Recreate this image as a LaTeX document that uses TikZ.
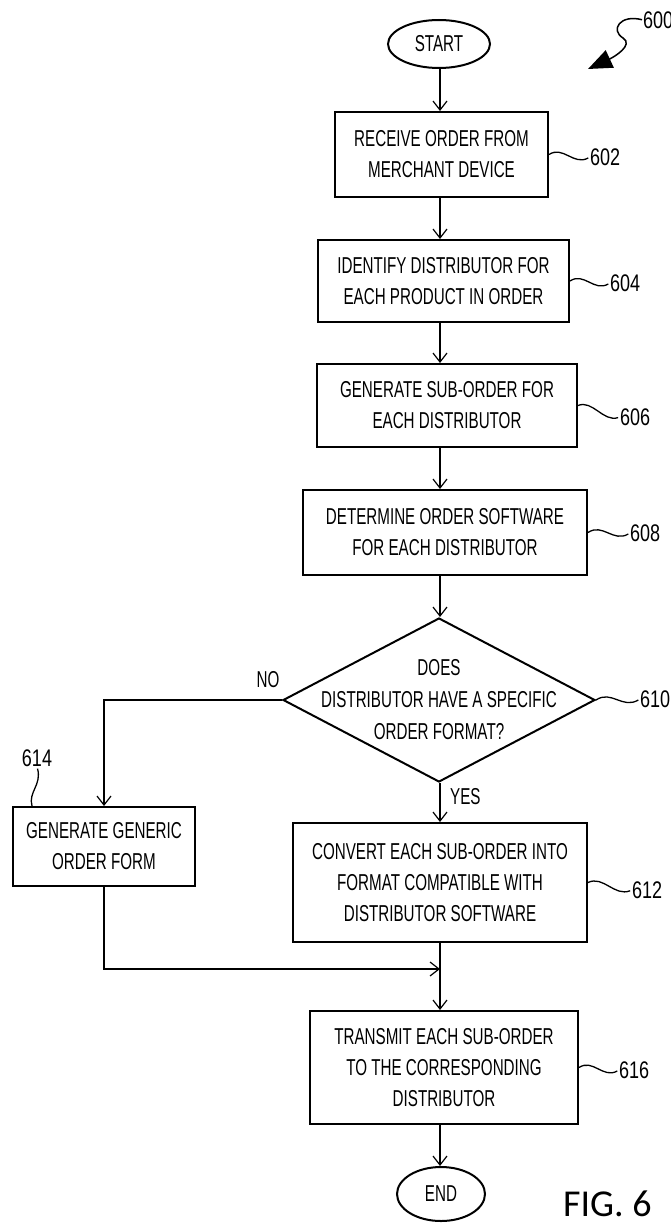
\documentclass[tikz,border=0pt]{standalone}
\usepackage{fontspec}
\setmainfont[FakeStretch=0.66]{Liberation Sans}
\newfontfamily\lblfont[FakeStretch=0.75]{Liberation Sans}
\newfontfamily\figfont{Carlito}
\usetikzlibrary{arrows.meta,shapes.geometric,calc}

\begin{document}
\begin{tikzpicture}[x=1pt,y=-1pt,
  every node/.style={font=\fontsize{23}{31}\selectfont},
  stepbox/.style={draw, line width=2pt, rectangle, align=center, inner sep=0pt},
  term/.style={draw, ellipse, line width=2pt, inner sep=0pt},
  decision/.style={draw, diamond, line width=2pt, inner sep=0pt},
  flow/.style={line width=1.2pt, -{Straight Barb[length=9pt,width=14pt,line width=1.2pt]}},
  ref/.style={font=\lblfont\fontsize{24}{28}\selectfont, inner sep=0pt},
  squig/.style={line width=1.3pt, shorten >=2pt,
    to path={.. controls ($(\tikztostart)!0.35!(\tikztotarget)+(0,-10)$) and ($(\tikztostart)!0.6!(\tikztotarget)+(0,10)$) .. (\tikztotarget)}},
]
\useasboundingbox (0,0) rectangle (671,1228);

% main column of the flow chart
\coordinate (spine) at (440,0);
\node[term, minimum width=102, minimum height=48] (start) at (439,44) {START};
\node[stepbox, minimum width=213, minimum height=85] (b602) at (441.5,154.5) {RECEIVE ORDER FROM\\MERCHANT DEVICE};
\node[stepbox, minimum width=251, minimum height=82] (b604) at (443.5,281) {IDENTIFY DISTRIBUTOR FOR\\EACH PRODUCT IN ORDER};
\node[stepbox, minimum width=260, minimum height=83] (b606) at (447,405.5) {GENERATE SUB-ORDER FOR\\EACH DISTRIBUTOR};
\node[stepbox, minimum width=284, minimum height=85] (b608) at (445,532.5) {DETERMINE ORDER SOFTWARE\\FOR EACH DISTRIBUTOR};
\node[decision, minimum width=312, minimum height=164] (d610) at (439,700) {};
\node[align=center] (t610) at (d610.center) {DOES\\[1pt]DISTRIBUTOR HAVE A SPECIFIC\\[1pt]ORDER FORMAT?};
\node[stepbox, minimum width=294, minimum height=119] (b612) at (440,882.5) {CONVERT EACH SUB-ORDER INTO\\FORMAT COMPATIBLE WITH\\DISTRIBUTOR SOFTWARE};
\node[stepbox, minimum width=182, minimum height=79] (b614) at (104,846.5) {GENERATE GENERIC\\ORDER FORM};
\node[stepbox, minimum width=268, minimum height=113] (b616) at (444,1067.5) {TRANSMIT EACH SUB-ORDER\\TO THE CORRESPONDING\\DISTRIBUTOR};
\node[term, minimum width=88, minimum height=54] (end) at (441,1194) {END};
\coordinate (join) at (440,969);

% connectors
\draw[flow] (spine |- start.south) -- (spine |- b602.north);
\draw[flow] (spine |- b602.south) -- (spine |- b604.north);
\draw[flow] (spine |- b604.south) -- (spine |- b606.north);
\draw[flow] (spine |- b606.south) -- (spine |- b608.north);
\draw[flow] (spine |- b608.south) -- (spine |- d610.north);
\draw[flow] (spine |- d610.south) -- (spine |- b612.north);
\draw[flow] (d610.west) -| (b614.north);
\draw[flow] (b614.south) |- (join);
\draw[flow] (spine |- b612.south) -- (spine |- b616.north);
\draw[flow] (spine |- b616.south) -- (spine |- end.north);

\node (no) at (268,680) {NO};
\node[anchor=west, inner sep=0pt] (yes) at (450,797) {YES};

% reference numerals
\node[ref, anchor=west] (r602) at (590,157) {602};
\node[ref, anchor=west] (r604) at (610,283) {604};
\node[ref, anchor=west] (r606) at (620,417) {606};
\node[ref, anchor=west] (r608) at (630,533) {608};
\node[ref, anchor=west] (r610) at (640,699) {610};
\node[ref, anchor=west] (r612) at (632,890) {612};
\node[ref, anchor=west] (r616) at (619,1070) {616};
\node[ref] (r614) at (37,758) {614};
\node[ref, anchor=west] (r600) at (643,20) {600};

\draw[squig] (b602.east) to (r602.west);
\draw[squig] (b604.east) to (r604.west);
\draw[squig] (b606.east) to (r606.west);
\draw[squig] (b608.east) to (r608.west);
\draw[squig] (d610.east) to (r610.west);
\draw[squig] (b612.east) to (r612.west);
\draw[squig] (b616.east) to (r616.west);
\draw[line width=1.3pt, shorten <=2pt] (r614.south) .. controls (42,785) and (28,792) .. ($(b614.north west)+(20,0)$);

% figure arrow
\coordinate (p600) at (588,69);
\draw[line width=1.5pt, -{Triangle[length=24pt,width=19pt]}, shorten <=1pt]
  (r600.west) .. controls (620,14) and (610,30) .. (623,38)
  .. controls (634,45) and (614,57) .. (p600);

\node[font=\figfont\fontsize{38}{38}\selectfont, anchor=base west, inner sep=0pt] (fig) at (563,1216) {FIG. 6};
\end{tikzpicture}
\end{document}
